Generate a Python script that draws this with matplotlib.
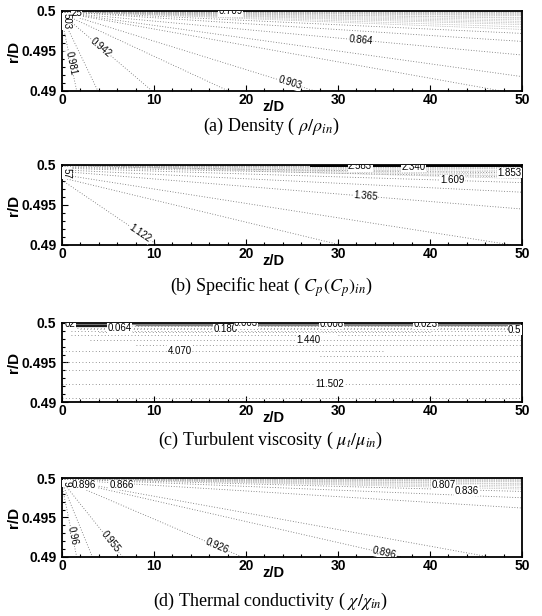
import matplotlib.pyplot as plt
import numpy as np
from matplotlib.ticker import MultipleLocator

plt.rcParams["mathtext.fontset"] = "stix"

# ---- (a) density: fan of contour lines from the inlet wall corner ----
a_start_r = [0.4988, 0.4993, 0.4996, 0.4997, 0.4998, 0.4998, 0.4998, 0.4998, 0.4999, 0.4999]
a_end_z = [1.6, 3.9, 9.8, 18.1, 27.5, 47.8, 50, 50, 50, 50]
a_end_r = [0.49, 0.49, 0.49, 0.49, 0.49, 0.49, 0.4918, 0.4945, 0.4962, 0.4972]
a_band_r = [0.4977, 0.4980, 0.4983, 0.4985, 0.4987, 0.4989, 0.4991, 0.4992,
            0.4994, 0.4995, 0.4996, 0.4997, 0.4998, 0.49985, 0.4999]
a_line_labels = [("0.981", 0, 0.6), ("0.942", 2, 0.43), ("0.903", 4, 0.9), ("0.864", 7, 0.65)]
# partly hidden labels: only the visible part is printed in the source figure
a_free_labels = [("0.709", 18.3, 0.49995, 0), ("25", 1.6, 0.4998, 0), ("503", 0.45, 0.4987, -90)]

# ---- (b) specific heat ----
b_start_r = [0.4981, 0.4984, 0.4988, 0.4992, 0.4994, 0.4996, 0.4997, 0.4998]
b_end_z = [10.4, 30.3, 48.9, 50, 50, 50, 50, 50]
b_end_r = [0.49, 0.49, 0.49, 0.4945, 0.4966, 0.4978, 0.4985, 0.4990]
b_band_r = [0.4983, 0.4986, 0.4988, 0.4991, 0.4993, 0.4995, 0.4996, 0.4997, 0.4998, 0.4999]
b_dark_r = [0.49995, 0.4999, 0.49985]
b_dark_z = [27.0, 50.0]
b_line_labels = [("1.122", 0, 0.82), ("1.365", 3, 0.66)]
b_free_labels = [("2.583", 32.4, 0.49985, 0), ("2.340", 38.2, 0.4998, 0),
                 ("1.609", 42.4, 0.4981, 0), ("1.853", 48.6, 0.4990, 0), ("57", 0.45, 0.4990, -90)]

# ---- (c) turbulent viscosity: nearly horizontal contour segments ----
c_seg_r = [0.4996, 0.4994, 0.4992, 0.4990, 0.4988, 0.4985, 0.4985, 0.4979, 0.4972,
           0.4965, 0.4958, 0.4950, 0.4940, 0.4923, 0.4905]
c_seg_z0 = [1, 0.5, 2, 1, 4, 1, 30, 3, 8, 0, 28, 0, 0, 0, 0]
c_seg_z1 = [50, 50, 50, 50, 40, 28, 50, 50, 50, 35, 50, 50, 50, 50, 50]
c_solid_r = [0.49985, 0.4997, 0.49962, 0.49975, 0.4997, 0.49975, 0.4997]
c_solid_z0 = [1.5, 1.5, 1.5, 8, 8, 21, 21]
c_solid_z1 = [50, 7, 7, 20, 20, 50, 50]
c_free_labels = [("02", 0.9, 0.49985, 0), ("0.064", 6.3, 0.49937, 0), ("0.180", 17.8, 0.49924, 0),
                 ("0.003", 20.0, 0.49997, 0), ("0.008", 29.3, 0.49993, 0), ("0.023", 39.5, 0.4999, 0),
                 ("0.5", 49.2, 0.4991, 0), ("1.440", 26.8, 0.4979, 0), ("4.070", 12.8, 0.4965, 0),
                 ("11.502", 29.1, 0.4923, 0)]

# ---- (d) thermal conductivity ----
d_start_r = [0.4990, 0.4994, 0.4996, 0.4998, 0.4998, 0.4998, 0.4998, 0.4999, 0.4999]
d_end_z = [1.6, 3.3, 6.6, 19.6, 36.9, 46.5, 50, 50, 50]
d_end_r = [0.49, 0.49, 0.49, 0.49, 0.49, 0.49, 0.4962, 0.4975, 0.4983]
d_band_r = [0.4986, 0.4988, 0.4990, 0.4992, 0.4993, 0.4995, 0.4996, 0.4997, 0.4998, 0.4999]
d_line_labels = [("0.96", 0, 0.7), ("0.955", 2, 0.8), ("0.926", 3, 0.86), ("0.896", 4, 0.95)]
d_free_labels = [("0.896", 2.4, 0.49911, 0), ("0.866", 6.5, 0.4991, 0),
                 ("0.807", 41.5, 0.4991, 0), ("0.836", 44.0, 0.4984, 0), ("9", 0.45, 0.4993, -90)]

captions = [r"(a) Density ( $\rho/\rho_{in}$)",
            r"(b) Specific heat ( $C_p(C_p)_{in}$)",
            r"(c) Turbulent viscosity ( $\mu_t/\mu_{in}$)",
            r"(d) Thermal conductivity ( $\chi/\chi_{in}$)"]

z_ticks = [0, 10, 20, 30, 40, 50]
r_ticks = [0.49, 0.495, 0.5]

LBL = dict(family="Liberation Sans", fontsize=7, ha="center", va="center",
           clip_on=True, zorder=5,
           bbox=dict(facecolor="white", edgecolor="none", pad=0.3))
DOT = dict(color="0.4", lw=0.6, ls=(0, (1, 2.2)))
BAND = dict(color="0.62", lw=0.5, ls=(0, (1, 1.5)))


def setup(ax):
    ax.set_xlim(0, 50)
    ax.set_ylim(0.49, 0.5)
    ax.set_xticks(z_ticks)
    ax.set_yticks(r_ticks)
    ax.set_yticklabels(["0.49", "0.495", "0.5"])
    ax.xaxis.set_minor_locator(MultipleLocator(2))
    ax.yaxis.set_minor_locator(MultipleLocator(0.001))
    ax.tick_params(which="both", direction="in", width=0.8)
    ax.tick_params(which="major", length=4, labelsize=10)
    ax.tick_params(which="minor", length=2)
    ax.tick_params(axis="y", pad=4)
    ax.tick_params(axis="x", pad=1.5)
    for lab in ax.get_xticklabels() + ax.get_yticklabels():
        lab.set_family("Liberation Sans")
        lab.set_fontweight("bold")
    for s in ax.spines.values():
        s.set_linewidth(1.3)
    ax.set_xlabel("z/D", family="Liberation Sans", fontweight="bold", fontsize=10.5)
    ax.xaxis.set_label_coords(0.46, -0.11)
    ax.set_ylabel("r/D", family="Liberation Sans", fontweight="bold", fontsize=11,
                  labelpad=0)


def fan(ax, start_r, end_z, end_r, band_r, line_labels):
    for sr, ez, er in zip(start_r, end_z, end_r):
        ax.plot([0, ez], [sr, er], **DOT)
    for br in band_r:
        ax.plot([0, 50], [0.49995, br], **BAND)
    for text, i, f in line_labels:
        zz = f * end_z[i]
        rr = start_r[i] + f * (end_r[i] - start_r[i])
        ang = np.degrees(np.arctan2(end_r[i] - start_r[i], end_z[i]))
        ax.text(zz, rr, text, rotation=ang, transform_rotates_text=True,
                rotation_mode="anchor", **LBL)


def free_labels(ax, labels):
    for text, zz, rr, rot in labels:
        ax.text(zz, rr, text, rotation=rot, **LBL)


fig = plt.figure(figsize=(5.42, 6.16), dpi=100)
W = 542.0
H = 616.0
boxes = [(11, 91), (165, 245), (323, 402), (478, 557)]
cap_y = [126, 287, 440, 601]
axes = []
for top, bot in boxes:
    ax = fig.add_axes([62 / W, 1 - bot / H, 460 / W, (bot - top) / H])
    setup(ax)
    axes.append(ax)

fan(axes[0], a_start_r, a_end_z, a_end_r, a_band_r, a_line_labels)
free_labels(axes[0], a_free_labels)

fan(axes[1], b_start_r, b_end_z, b_end_r, b_band_r, b_line_labels)
for dr in b_dark_r:
    axes[1].plot(b_dark_z, [dr, dr], color="black", lw=1.2, solid_capstyle="butt")
free_labels(axes[1], b_free_labels)

for r, z0, z1 in zip(c_seg_r, c_seg_z0, c_seg_z1):
    axes[2].plot([z0, z1], [r, r], color="0.45", lw=0.6, ls=(0, (1, 3)))
for r, z0, z1 in zip(c_solid_r, c_solid_z0, c_solid_z1):
    shade = "0.1" if z1 - z0 < 10 else "0.5"
    axes[2].plot([z0, z1], [r, r], color=shade, lw=0.9)
free_labels(axes[2], c_free_labels)

fan(axes[3], d_start_r, d_end_z, d_end_r, d_band_r, d_line_labels)
free_labels(axes[3], d_free_labels)

for cap, y in zip(captions, cap_y):
    fig.text(0.5, 1 - y / H, cap, ha="center", va="center",
             family="Liberation Serif", fontsize=13)

fig.savefig("out.png", dpi=100)
